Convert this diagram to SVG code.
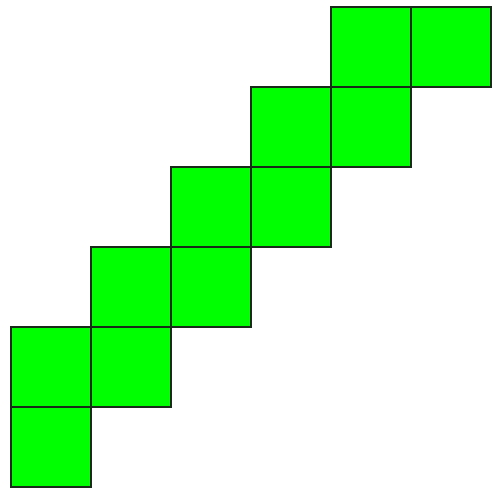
<svg xmlns="http://www.w3.org/2000/svg" width="496" height="490" viewBox="0 0 496 490">
<style>
.sq{fill:#00ff00;stroke:#1a2a1a;stroke-width:2}
</style>
<rect width="496" height="490" fill="#ffffff"/>
<g id="squares">
<rect id="s1" class="sq" x="331" y="7" width="80" height="80"/>
<rect id="s2" class="sq" x="411" y="7" width="80" height="80"/>
<rect id="s3" class="sq" x="251" y="87" width="80" height="80"/>
<rect id="s4" class="sq" x="331" y="87" width="80" height="80"/>
<rect id="s5" class="sq" x="171" y="167" width="80" height="80"/>
<rect id="s6" class="sq" x="251" y="167" width="80" height="80"/>
<rect id="s7" class="sq" x="91" y="247" width="80" height="80"/>
<rect id="s8" class="sq" x="171" y="247" width="80" height="80"/>
<rect id="s9" class="sq" x="11" y="327" width="80" height="80"/>
<rect id="s10" class="sq" x="91" y="327" width="80" height="80"/>
<rect id="s11" class="sq" x="11" y="407" width="80" height="80"/>
</g>
</svg>
